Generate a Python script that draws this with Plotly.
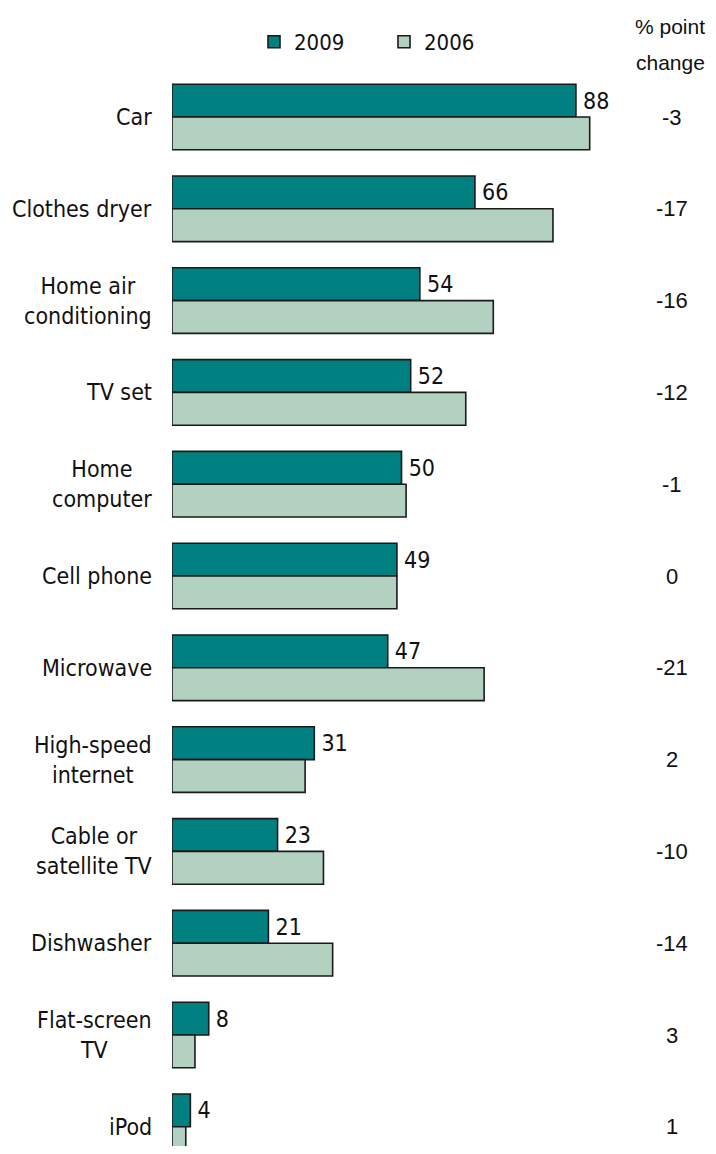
import plotly.graph_objects as go

categories = ["Car", "Clothes dryer", "Home air<br>conditioning", "TV set", "Home<br>computer",
              "Cell phone", "Microwave", "High-speed<br>internet", "Cable or<br>satellite TV",
              "Dishwasher", "Flat-screen<br>TV", "iPod"]
values_2009 = [88, 66, 54, 52, 50, 49, 47, 31, 23, 21, 8, 4]
values_2006 = [91, 83, 70, 64, 51, 49, 68, 29, 33, 35, 5, 3]
point_change = ["-3", "-17", "-16", "-12", "-1", "0", "-21", "2", "-10", "-14", "3", "1"]
series_names = ["2009", "2006"]

FONT = "DejaVu Sans Condensed, DejaVu Sans, sans-serif"
FONT2 = "Liberation Sans, Arial, sans-serif"
TEAL = "#008080"
LIGHT = "#B3D1C1"
EDGE = "#1a1a1a"

# page has an 8px body margin, so the figure is laid out 8px up/left of the reference
OFF = 8
W, H = 716 - 2 * OFF, 1154 - 2 * OFF
L, T = 172 - OFF, 75 - OFF
PW, PH = W - L, H - T


def px_x(px):
    return (px - OFF - L) / PW


def px_y(py):
    return 1 + (T - (py - OFF)) / PH


ypos = list(range(len(categories)))

fig = go.Figure()
fig.add_trace(go.Bar(
    name=series_names[0], y=ypos, x=values_2009, orientation="h",
    marker=dict(color=TEAL, line=dict(color=EDGE, width=1.6)),
    texttemplate="\u2009%{x}", textposition="outside",
    textfont=dict(family=FONT, size=23, color="#111"),
    constraintext="none", cliponaxis=False,
))
fig.add_trace(go.Bar(
    name=series_names[1], y=ypos, x=values_2006, orientation="h",
    marker=dict(color=LIGHT, line=dict(color=EDGE, width=1.6)),
    cliponaxis=True,
))

annotations = []
for i, lab in enumerate(categories):
    annotations.append(dict(
        x=0, xref="paper", y=i, yref="y", text=lab, showarrow=False,
        xanchor="right", xshift=-18, align="center",
        font=dict(family=FONT, size=23, color="#111"),
    ))
for i, ch in enumerate(point_change):
    annotations.append(dict(
        x=px_x(672), xref="paper", y=i, yref="y", text=ch, showarrow=False,
        xanchor="center", font=dict(family=FONT2, size=22, color="#111"),
    ))
annotations.append(dict(x=px_x(707), xref="paper", y=px_y(27), yref="paper",
                        text="% point", showarrow=False, xanchor="right", yanchor="middle",
                        font=dict(family=FONT2, size=21, color="#111")))
annotations.append(dict(x=px_x(707), xref="paper", y=px_y(62), yref="paper",
                        text="change", showarrow=False, xanchor="right", yanchor="middle",
                        font=dict(family=FONT2, size=21, color="#111")))

ppu = 91.8
y_top = -(117 - 75) / ppu
y_bot = y_top + PH / ppu

fig.update_layout(
    width=W, height=H,
    margin=dict(l=L, r=0, t=T, b=0),
    paper_bgcolor="white", plot_bgcolor="white",
    barmode="group", bargap=0.285, bargroupgap=0,
    showlegend=True,
    legend=dict(orientation="h", xref="container", yref="container",
                x=(254 - OFF) / W, y=1 - (42 - OFF) / H, xanchor="left", yanchor="middle",
                entrywidth=85, traceorder="normal",
                font=dict(family=FONT, size=22, color="#111"), bgcolor="rgba(0,0,0,0)"),
    xaxis=dict(range=[0, PW / 4.59], visible=False, fixedrange=True),
    yaxis=dict(range=[y_bot, y_top], visible=False, fixedrange=True),
    annotations=annotations,
)

fig.write_html("out.html", config={"displayModeBar": False})
